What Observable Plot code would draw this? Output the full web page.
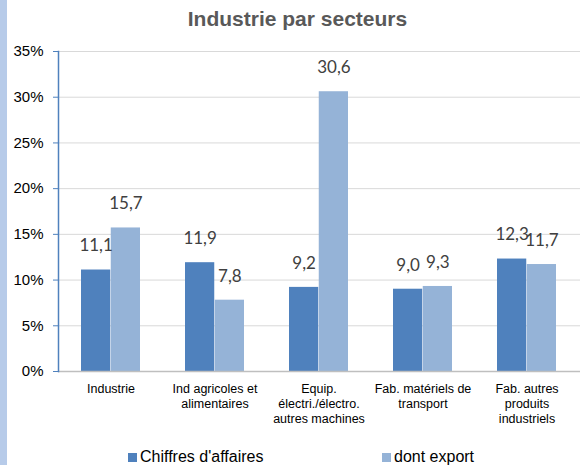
<!DOCTYPE html>
<html>
<head>
<meta charset="utf-8">
<script src="https://cdn.jsdelivr.net/npm/d3@7"></script>
<script src="https://cdn.jsdelivr.net/npm/@observablehq/plot@0.6"></script>
<style>
  html, body { margin: 0; padding: 0; background: #fff; }
  #wrap { position: relative; width: 583px; height: 465px; overflow: hidden; font-family: "Liberation Sans", Arial, sans-serif; }
  #strip { position: absolute; left: 0; top: 0; width: 7px; height: 465px; background: #B7CBE9; }
  #title { position: absolute; left: 12px; top: 6px; width: 571px; text-align: center; font-weight: bold; font-size: 21px; color: #595959; line-height: 26px; }
  #chart { position: absolute; left: 0; top: 30px; }
  .leg { position: absolute; top: 447px; font-size: 16px; color: #000; line-height: 20px; white-space: nowrap; }
  .sw { display: inline-block; width: 9px; height: 9px; margin-right: 3px; vertical-align: 0px; }
</style>
</head>
<body>
<div id="wrap">
  <div id="strip"></div>
  <div id="title">Industrie par secteurs</div>
  <div id="chart"></div>
</div>
<script>
const title = "Industrie par secteurs";
const categories = [
  "Industrie",
  "Ind agricoles et\nalimentaires",
  "Equip.\nélectri./électro.\nautres machines",
  "Fab. matériels de\ntransport",
  "Fab. autres\nproduits\nindustriels"
];
const seriesNames = ["Chiffres d'affaires", "dont export"];
const chiffresAffaires = [11.1, 11.9, 9.2, 9.0, 12.3];
const dontExport = [15.7, 7.8, 30.6, 9.3, 11.7];
const yTicks = [0, 5, 10, 15, 20, 25, 30, 35];
const colors = ["#4F81BD", "#95B3D7"];

const fmt = v => v.toFixed(1).replace(".", ",");
const rowsA = categories.map((c, i) => ({cat: c, v: chiffresAffaires[i]}));
const rowsB = categories.map((c, i) => ({cat: c, v: dontExport[i]}));

const width = 583, height = 410;
const mL = 58, mR = 3, mT = 21, mB = 69;
const pInner = 0.43, pOuter = 0.215;
const step = (width - mL - mR) / (categories.length - pInner + 2 * pOuter);
const half = step * (1 - pInner) / 2;

const chart = Plot.plot({
  width, height,
  marginLeft: mL, marginRight: mR, marginTop: mT, marginBottom: mB,
  style: {background: "transparent", fontFamily: "Liberation Sans, Arial, sans-serif"},
  x: {domain: categories, paddingInner: pInner, paddingOuter: pOuter, axis: null},
  y: {domain: [0, 35], axis: null},
  marks: [
    Plot.gridY(yTicks, {stroke: "#d9d9d9", strokeOpacity: 1}),
    Plot.barY(rowsA, {x: "cat", y: "v", fill: colors[0], insetLeft: 0, insetRight: half}),
    Plot.barY(rowsB, {x: "cat", y: "v", fill: colors[1], insetLeft: half, insetRight: 0}),
    Plot.ruleY([0], {stroke: "#bfbfbf", strokeWidth: 1.5}),
    Plot.frame({anchor: "left", stroke: colors[0], strokeWidth: 1.5}),
    Plot.axisY({ticks: yTicks, tickFormat: d => d + "%", tickSize: 5, tickPadding: 10,
      stroke: colors[0], fill: "#000", fontSize: 15, label: null}),
    Plot.axisX({tickSize: 0, tickPadding: 11, fontSize: 12.5, fill: "#000", label: null, lineHeight: 1.2}),
    Plot.text(rowsA, {x: "cat", y: "v", text: d => fmt(d.v), dx: -half / 2, dy: -24,
      fontSize: 17, fontFamily: "Lato, sans-serif", fill: "#404040"}),
    Plot.text(rowsB, {x: "cat", y: "v", text: d => fmt(d.v), dx: half / 2, dy: -24,
      fontSize: 17, fontFamily: "Lato, sans-serif", fill: "#404040"})
  ]
});
document.getElementById("chart").appendChild(chart);

const wrap = document.getElementById("wrap");
const legX = [128, 382];
seriesNames.forEach((name, i) => {
  const d = document.createElement("div");
  d.className = "leg";
  d.style.left = legX[i] + "px";
  const sw = document.createElement("span");
  sw.className = "sw";
  sw.style.background = colors[i];
  d.appendChild(sw);
  d.appendChild(document.createTextNode(name));
  wrap.appendChild(d);
});
</script>
</body>
</html>
